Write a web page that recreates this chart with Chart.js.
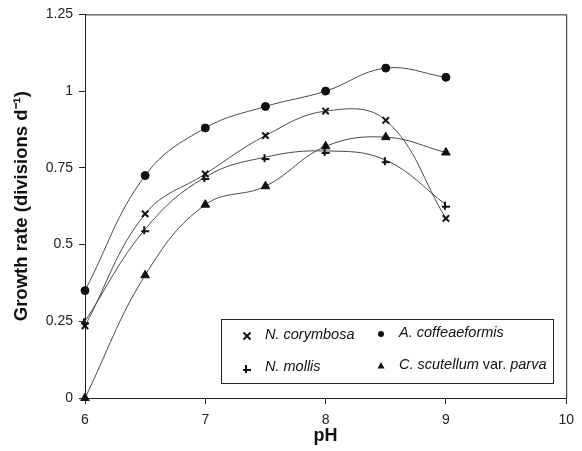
<!DOCTYPE html>
<html>
<head>
<meta charset="utf-8">
<script src="https://cdn.jsdelivr.net/npm/chart.js@4"></script>
<style>
  html, body { margin: 0; padding: 0; background: #fff; }
  #wrap { width: 582px; height: 451px; }
</style>
</head>
<body>
<div id="wrap"><canvas id="growth" width="582" height="451"></canvas></div>
<script>
const phValues = [6, 6.5, 7, 7.5, 8, 8.5, 9];
const corymbosa = [0.235, 0.60, 0.73, 0.855, 0.935, 0.905, 0.585];
const coffeaeformis = [0.35, 0.725, 0.88, 0.95, 1.0, 1.075, 1.045];
const mollis = [0.25, 0.55, 0.72, 0.785, 0.805, 0.775, 0.63];
const scutellum = [0.0, 0.40, 0.63, 0.69, 0.82, 0.85, 0.80];
const seriesNames = ['N. corymbosa', 'A. coffeaeformis', 'N. mollis', 'C. scutellum var. parva'];
const yTicks = ['0', '0.25', '0.5', '0.75', '1', '1.25'];

const FONT = '"Liberation Sans", Arial, sans-serif';

// marker for N. mollis: a bar with a short stem
function mollisMarker() {
  const c = document.createElement('canvas');
  c.width = 12; c.height = 12;
  const g = c.getContext('2d');
  g.strokeStyle = '#111';
  g.lineWidth = 2;
  g.beginPath();
  g.moveTo(2, 8); g.lineTo(10, 8);
  g.moveTo(5, 3); g.lineTo(5, 11);
  g.stroke();
  return c;
}
const mollisImg = mollisMarker();

function pts(arr) {
  return phValues.map((x, i) => ({ x: x, y: arr[i] }));
}

const styles = [
  { pointStyle: 'crossRot', pointRadius: 4.5, pointBorderWidth: 2 },
  { pointStyle: 'circle', pointRadius: 4, pointBorderWidth: 1 },
  { pointStyle: mollisImg, pointRadius: 5, pointBorderWidth: 1 },
  { pointStyle: 'triangle', pointRadius: 5, pointBorderWidth: 1 }
];
const seriesData = [corymbosa, coffeaeformis, mollis, scutellum];

const datasets = seriesData.map((arr, i) => Object.assign({
  label: seriesNames[i],
  data: pts(arr),
  borderColor: '#4a4a4a',
  borderWidth: 1,
  backgroundColor: '#111',
  pointBackgroundColor: '#111',
  pointBorderColor: '#111',
  tension: 0.4,
  clip: false
}, styles[i]));

function drawMarker(ctx, kind, x, y) {
  ctx.save();
  ctx.fillStyle = '#111';
  ctx.strokeStyle = '#111';
  if (kind === 0) {
    ctx.lineWidth = 2;
    ctx.beginPath();
    ctx.moveTo(x - 3.5, y - 3.5); ctx.lineTo(x + 3.5, y + 3.5);
    ctx.moveTo(x + 3.5, y - 3.5); ctx.lineTo(x - 3.5, y + 3.5);
    ctx.stroke();
  } else if (kind === 1) {
    ctx.beginPath(); ctx.arc(x, y, 3, 0, Math.PI * 2); ctx.fill();
  } else if (kind === 2) {
    ctx.drawImage(mollisImg, x - 6, y - 6);
  } else {
    ctx.beginPath();
    ctx.moveTo(x, y - 4); ctx.lineTo(x + 3.5, y + 2.5); ctx.lineTo(x - 3.5, y + 2.5);
    ctx.closePath(); ctx.fill();
  }
  ctx.restore();
}

// frame on top/right plus the boxed two-column legend
const framePlugin = {
  id: 'frameLegend',
  afterDraw(chart) {
    const ctx = chart.ctx;
    const a = chart.chartArea;
    ctx.save();
    ctx.strokeStyle = '#222';
    ctx.lineWidth = 1;
    ctx.beginPath();
    ctx.moveTo(a.left, a.top + 0.5);
    ctx.lineTo(a.right + 0.5, a.top + 0.5);
    ctx.lineTo(a.right + 0.5, a.bottom);
    ctx.stroke();

    const bx = 221, by = 319, bw = 332, bh = 64;
    ctx.fillStyle = '#fff';
    ctx.fillRect(bx, by, bw, bh);
    ctx.strokeRect(bx + 0.5, by + 0.5, bw, bh);

    const cells = [
      { x: 247, y: 336 }, { x: 381, y: 334 },
      { x: 247, y: 368 }, { x: 381, y: 366 }
    ];
    ctx.fillStyle = '#111';
    ctx.textBaseline = 'middle';
    seriesNames.forEach((name, i) => {
      const c = cells[i];
      drawMarker(ctx, i, c.x, c.y);
      let tx = c.x + 18;
      const parts = name.split(' var. ');
      ctx.font = 'italic 14.5px ' + FONT;
      ctx.fillText(parts[0], tx, c.y - 1);
      if (parts.length > 1) {
        tx += ctx.measureText(parts[0] + ' ').width;
        ctx.font = '14.5px ' + FONT;
        ctx.fillText('var.', tx, c.y - 1);
        tx += ctx.measureText('var. ').width;
        ctx.font = 'italic 14.5px ' + FONT;
        ctx.fillText(parts[1], tx, c.y - 1);
      }
    });
    ctx.restore();
  }
};

new Chart(document.getElementById('growth'), {
  type: 'line',
  data: { datasets: datasets },
  options: {
    responsive: false,
    animation: false,
    layout: { padding: { top: 13, right: 14, left: 0, bottom: 0 } },
    plugins: { legend: { display: false }, tooltip: { enabled: false } },
    scales: {
      x: {
        type: 'linear',
        min: 6, max: 10,
        ticks: { stepSize: 1, color: '#222', font: { family: FONT, size: 14 }, padding: 8 },
        grid: { display: true, drawOnChartArea: false, drawTicks: true, tickLength: 6, tickColor: '#222', color: '#222' },
        border: { color: '#222', width: 1 },
        title: { display: true, text: 'pH', color: '#111', font: { family: FONT, size: 18, weight: 'bold' }, padding: { top: 1 } },
        afterFit(s) { s.height = 53; }
      },
      y: {
        min: 0, max: 1.25,
        ticks: {
          stepSize: 0.25, color: '#222', font: { family: FONT, size: 14 }, padding: 6,
          callback: (v) => yTicks[Math.round(v / 0.25)]
        },
        grid: { display: true, drawOnChartArea: false, drawTicks: true, tickLength: 6, tickColor: '#222', color: '#222' },
        border: { color: '#222', width: 1 },
        title: { display: true, text: 'Growth rate (divisions d⁻¹)', color: '#111', font: { family: FONT, size: 18.5, weight: 'bold' }, padding: { top: 11, bottom: 2 } },
        afterFit(s) { s.width = 85; }
      }
    }
  },
  plugins: [framePlugin]
});
</script>
</body>
</html>
